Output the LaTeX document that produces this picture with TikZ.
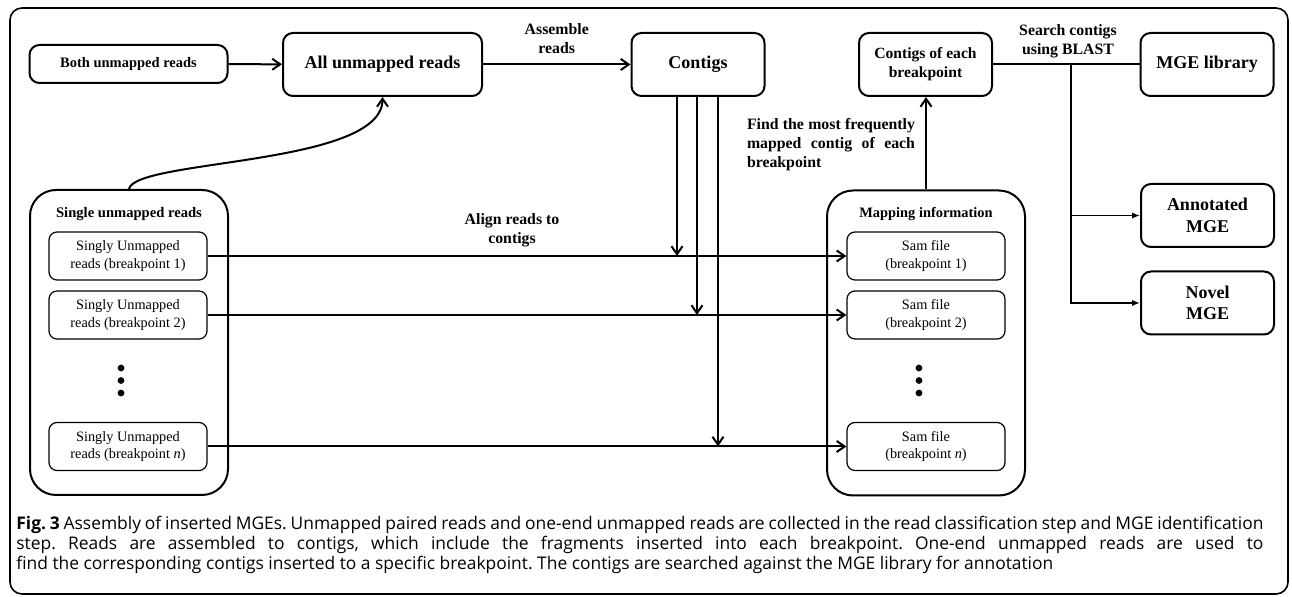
\documentclass[tikz,border=0pt]{standalone}
\usepackage{fontspec}
\setmainfont{Liberation Serif}
\newfontfamily\capfont{Open Sans}
\usetikzlibrary{arrows.meta}

\tikzset{
  arr/.style={-{Straight Barb[length=4pt,width=5.5pt]}, line width=1pt},
  arrsmall/.style={-{Latex[length=4pt,width=3.2pt]}, line width=0.8pt},
  bigbox/.style={draw, line width=1pt, rounded corners=5pt, align=center, inner sep=0pt,
    minimum width=66.5pt, minimum height=31.5pt, font=\fontsize{9}{10.8}\selectfont\bfseries},
  midbox/.style={bigbox, font=\fontsize{7.8}{9.4}\selectfont\bfseries},
  holder/.style={draw, line width=1pt, rounded corners=13pt, minimum width=99pt, minimum height=152.5pt, inner sep=0pt},
  readbox/.style={draw, line width=0.6pt, rounded corners=4pt, align=center, inner sep=0pt,
    minimum width=79pt, minimum height=24pt, font=\fontsize{7.15}{8.6}\selectfont},
  lbl/.style={align=center, inner sep=0pt, font=\fontsize{7.9}{9.5}\selectfont\bfseries}
}

\begin{document}
\begin{tikzpicture}[x=0.5pt, y=-0.5pt]
\useasboundingbox (0,0) rectangle (1292,597);
\draw [line width=0.8pt, rounded corners=6pt] (10,8) rectangle (1288,594);

\node [bigbox, minimum height=19pt, minimum width=99pt, font=\fontsize{7.25}{8.7}\selectfont\bfseries] (both) at (128.5,64) {Both unmapped reads};
\node [bigbox, minimum width=99.5pt] (allun) at (382.5,64.5) {All unmapped reads};
\node [bigbox] (contigs) at (698,64.5) {Contigs};
\node [midbox] (cbp) at (925.5,64.5) {Contigs of each\\breakpoint};
\node [bigbox] (mgelib) at (1207,64.5) {MGE library};
\node [bigbox] (annot) at (1207.5,215.5) {Annotated\\MGE};
\node [bigbox] (novel) at (1207.5,303) {Novel\\MGE};

\node [holder] (single) at (129,342.5) {};
\node [holder] (mapping) at (926,343) {};
\node [lbl, font=\fontsize{7.3}{8.8}\selectfont\bfseries] (singletitle) at (129,214) {Single unmapped reads};
\node [lbl, font=\fontsize{7.2}{8.6}\selectfont\bfseries] (mappingtitle) at (926,214) {Mapping information};

\node [readbox] (s1) at (128,256) {Singly Unmapped\\reads (breakpoint 1)};
\node [readbox] (s2) at (128,315) {Singly Unmapped\\reads (breakpoint 2)};
\node [readbox] (sn) at (128,446.5) {Singly Unmapped\\reads (breakpoint \textit{n})};
\node [readbox] (m1) at (926,256) {Sam file\\(breakpoint 1)};
\node [readbox] (m2) at (926,315) {Sam file\\(breakpoint 2)};
\node [readbox] (mn) at (926,446.5) {Sam file\\(breakpoint \textit{n})};

\foreach \y in {368,380.5,393} {
  \fill (121,\y) circle (1.7pt);
  \fill (919,\y) circle (1.7pt);
}

\draw [arr] (both) -- (allun);
\draw [arr] (allun) -- node [lbl, above=5pt] {Assemble\\reads} (contigs);
\draw [arr] (single.north) .. controls +(3pt,15pt) and +(0,-34.5pt) .. (allun.south);

\draw [arr] ([xshift=-10.5pt]contigs.south) -- ([xshift=-10.5pt]contigs.south |- s1.east);
\draw [arr] ([xshift=-0.5pt]contigs.south) -- ([xshift=-0.5pt]contigs.south |- s2.east);
\draw [arr] ([xshift=10pt]contigs.south) -- ([xshift=10pt]contigs.south |- sn.east);

\draw [arr] (s1) -- (m1);
\draw [arr] (s2) -- (m2);
\draw [arr] (sn) -- (mn);
\node [lbl] (alignlbl) at (512,230) {Align reads to\\contigs};

\draw [arr] (mapping.north) -- (mapping.north |- cbp.south);
\node [lbl, text width=84pt, align=justify] (findlbl) at (831,145)
  {Find the most frequently\linebreak mapped contig of each\linebreak breakpoint};

\draw [line width=1pt] (cbp) -- (mgelib);
\node [lbl] (blastlbl) at (1068,41.5) {Search contigs\\using BLAST};
\coordinate (br) at (1071,64.5);
\draw [arrsmall] (br) |- (novel.west);
\draw [arrsmall] (br |- annot.west) -- (annot.west);

\node [anchor=base west, inner sep=0pt, text width=623.5pt, align=justify,
  font=\capfont\fontsize{8.7}{10}\selectfont\frenchspacing] (caption) at (16,530)
  {\hyphenpenalty=10000\relax\spaceskip=0.26em plus 0.4em minus 0.14em\relax
  \textbf{Fig. 3} Assembly of inserted MGEs. Unmapped paired reads and one-end unmapped reads are collected in the read classification step and MGE identification\linebreak
  step. Reads are assembled to contigs, which include the fragments inserted into each breakpoint. One-end unmapped reads are used to\linebreak
  find the corresponding contigs inserted to a specific breakpoint. The contigs are searched against the MGE library for annotation};
\end{tikzpicture}
\end{document}
